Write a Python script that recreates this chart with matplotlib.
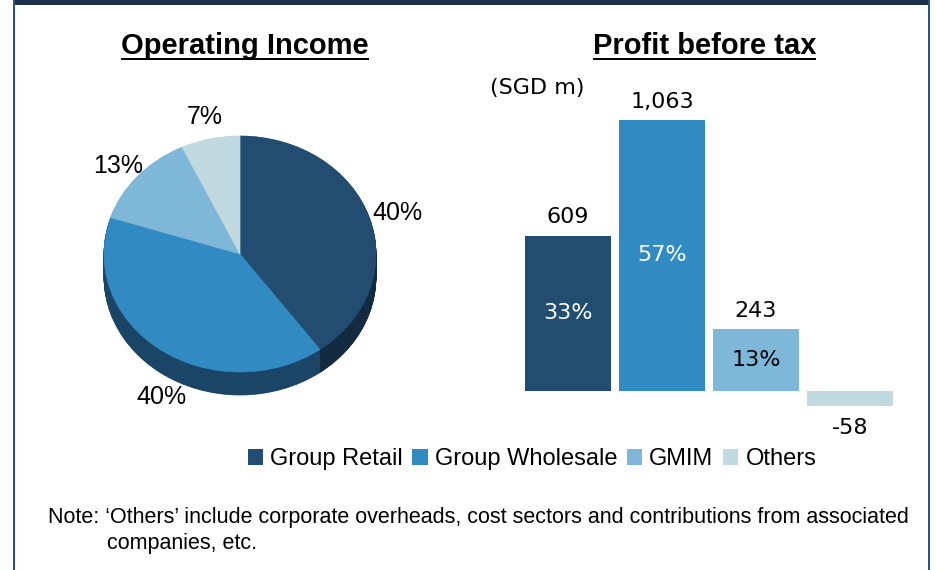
import matplotlib
matplotlib.use('Agg')
import matplotlib.pyplot as plt
from matplotlib.patches import Patch, Rectangle
import numpy as np

plt.rcParams['font.family'] = ['Liberation Sans', 'DejaVu Sans']

segments = ['Group Retail', 'Group Wholesale', 'GMIM', 'Others']
colors = ['#224d70', '#328ac3', '#7fb7d8', '#c0dae0']
side_colors = ['#132a40', '#1a4566', '#3f6f8c', '#7d9aa2']

# operating income share (%)
income_share = [40, 40, 13, 7]
income_labels = ['40%', '40%', '13%', '7%']

# profit before tax (SGD m)
pbt = [609, 1063, 243, -58]
pbt_labels = ['609', '1,063', '243', '-58']
pbt_share = ['33%', '57%', '13%', '']
pbt_share_colors = ['white', 'white', 'black', 'black']

W, H = 936, 570
fig = plt.figure(figsize=(W / 100, H / 100), dpi=100)

# frame: dark band on top, thin blue lines on both sides
fig.add_artist(Rectangle((13 / W, 1 - 5 / H), (930 - 13) / W, 5 / H,
                         transform=fig.transFigure, color='#1a2f48', lw=0))
fig.add_artist(Rectangle((13 / W, 0), 2 / W, 1, transform=fig.transFigure,
                         color='#2b5580', lw=0))
fig.add_artist(Rectangle((928 / W, 0), 2 / W, 1, transform=fig.transFigure,
                         color='#2b5580', lw=0))

# ---- pie (pseudo 3D) ----
ax1 = fig.add_axes([36 / W, 127.2 / H, 408 / W, 342.2 / H])
depth = 0.195
for k in np.linspace(depth, 0.005, 40):
    wedges, _ = ax1.pie(income_share, colors=side_colors, startangle=90,
                        counterclock=False, center=(0, -k), radius=1)
    for w in wedges:
        w.set_edgecolor(w.get_facecolor())
        w.set_linewidth(0.5)
wedges, _ = ax1.pie(income_share, colors=colors, startangle=90,
                    counterclock=False, center=(0, 0), radius=1)
for w in wedges:
    w.set_edgecolor(w.get_facecolor())
    w.set_linewidth(0.5)
ax1.set_aspect('auto')
ax1.set_xlim(-1.5, 1.5)
ax1.set_ylim(-1.6, 1.3)
ax1.axis('off')

label_dist = [1.22, 0.98, 1.19, 1.19]
label_drop = [0.03, 0.42, 0.04, 0]
start = 90
for share, lab, d, drop in zip(income_share, income_labels, label_dist, label_drop):
    mid = np.deg2rad(start - share * 3.6 / 2)
    start -= share * 3.6
    ax1.text(d * np.cos(mid), d * np.sin(mid) - drop, lab, ha='center',
             va='center', fontsize=18, color='black')

fig.text(245 / W, 1 - 46 / H, 'Operating Income', ha='center', va='center',
         fontsize=21, fontweight='bold')
fig.add_artist(Rectangle((121 / W, 1 - 60 / H), 248 / W, 2 / H,
                         transform=fig.transFigure, color='black', lw=0))

# ---- bars ----
ax2 = fig.add_axes([521 / W, 153.5 / H, 376 / W, 318.75 / H])
x = np.arange(len(pbt))
bars = ax2.bar(x, pbt, width=0.915, color=colors)
ax2.set_xlim(-0.5, 3.5)
ax2.set_ylim(-100, 1150)
ax2.axis('off')

for b, v, lab in zip(bars, pbt, pbt_labels):
    if v >= 0:
        ax2.annotate(lab, (b.get_x() + b.get_width() / 2, v), xytext=(0, 6),
                     textcoords='offset points', ha='center', va='bottom',
                     fontsize=16, family='DejaVu Sans')
    else:
        ax2.annotate(lab, (b.get_x() + b.get_width() / 2, v), xytext=(0, -9),
                     textcoords='offset points', ha='center', va='top',
                     fontsize=16, family='DejaVu Sans')
for b, v, s, c in zip(bars, pbt, pbt_share, pbt_share_colors):
    if s:
        ax2.text(b.get_x() + b.get_width() / 2, v / 2, s, ha='center',
                 va='center', fontsize=16, color=c, family='DejaVu Sans')

fig.text(490 / W, 1 - 88 / H, '(SGD m)', ha='left', va='center', fontsize=16,
         family='DejaVu Sans')
fig.text(704.5 / W, 1 - 46 / H, 'Profit before tax', ha='center', va='center',
         fontsize=21, fontweight='bold')
fig.add_artist(Rectangle((593 / W, 1 - 60 / H), 223 / W, 2 / H,
                         transform=fig.transFigure, color='black', lw=0))

# ---- legend ----
handles = [Patch(facecolor=c, edgecolor='none') for c in colors]
fig.legend(handles, segments, loc='center', bbox_to_anchor=(532 / W, 1 - 459 / H),
           ncol=4, frameon=False, fontsize=17, handlelength=0.64,
           handleheight=0.64, handletextpad=0.3, columnspacing=0.42,
           borderpad=0, borderaxespad=0)

# ---- note ----
fig.text(48 / W, 1 - 517 / H,
         'Note: \u2018Others\u2019 include corporate overheads, cost sectors and '
         'contributions from associated', ha='left', va='center', fontsize=15.5)
fig.text(107 / W, 1 - 544 / H, 'companies, etc.', ha='left', va='center',
         fontsize=15.5)

fig.savefig('out.png', dpi=100)
